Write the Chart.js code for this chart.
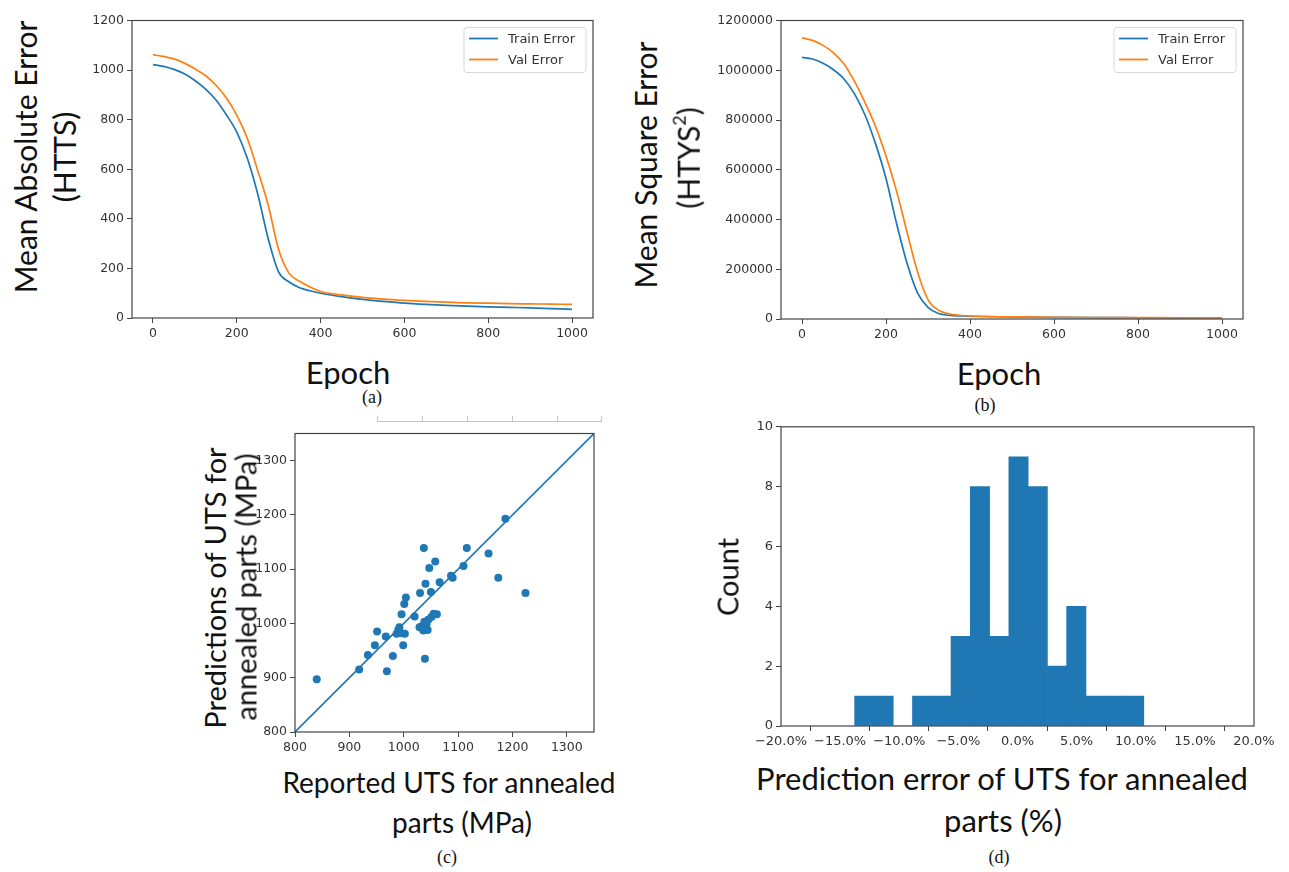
<!DOCTYPE html>
<html>
<head>
<meta charset="utf-8">
<script src="https://cdn.jsdelivr.net/npm/chart.js@4.4.1/dist/chart.umd.min.js"></script>
<style>
  html, body { margin: 0; padding: 0; background: #fff; }
  body { width: 1289px; height: 872px; position: relative; overflow: hidden; }
  canvas { position: absolute; }
  .lbl { position: absolute; white-space: nowrap; font-family: Lato, sans-serif; font-size: 30px; color: #111;
         transform: translate(-50%, -50%); line-height: 1; }
  .rot { transform: translate(-50%, -50%) rotate(-90deg); }
  .cap { font-family: "Liberation Serif", serif; font-size: 18px; }
  .lbl sup { font-size: 0.6em; vertical-align: 0.75em; }
  #artifact { position: absolute; left: 377px; top: 416px; width: 225px; height: 5px;
              border-bottom: 1px solid #c4c4c4; }
  #artifact span { position: absolute; top: 0; width: 1px; height: 6px; background: #c4c4c4; }
</style>
</head>
<body>
<canvas id="chartA" width="520" height="330" style="left:90px;top:10px"></canvas>
<canvas id="chartB" width="560" height="330" style="left:700px;top:10px"></canvas>
<canvas id="chartC" width="370" height="335" style="left:245px;top:423px"></canvas>
<canvas id="chartD" width="554" height="335" style="left:735px;top:416px"></canvas>
<div id="artifact"><span style="left:0"></span><span style="left:45px"></span><span style="left:90px"></span><span style="left:135px"></span><span style="left:180px"></span><span style="left:224px"></span></div>

<div class="lbl rot" style="left:25px;top:157px">Mean Absolute Error</div>
<div class="lbl rot" style="left:64px;top:157px">(HTTS)</div>
<div class="lbl" style="left:348px;top:372px;font-size:31px">Epoch</div>
<div class="lbl cap" style="left:372px;top:397px">(a)</div>

<div class="lbl rot" style="left:645px;top:165px">Mean Square Error</div>
<div class="lbl rot" style="left:686px;top:158px">(HTYS<sup>2</sup>)</div>
<div class="lbl" style="left:999px;top:373px;font-size:31px">Epoch</div>
<div class="lbl cap" style="left:985px;top:405px">(b)</div>

<div class="lbl rot" style="left:214px;top:588px;font-size:29px">Predictions of UTS for</div>
<div class="lbl rot" style="left:245px;top:587px;font-size:29px">annealed parts (MPa)</div>
<div class="lbl" style="left:449px;top:782px;font-size:28px">Reported UTS for annealed</div>
<div class="lbl" style="left:462px;top:822px;font-size:28px">parts (MPa)</div>
<div class="lbl cap" style="left:447px;top:857px">(c)</div>

<div class="lbl rot" style="left:727px;top:577px;font-size:29px">Count</div>
<div class="lbl" style="left:1002px;top:778px;font-size:31px">Prediction error of UTS for annealed</div>
<div class="lbl" style="left:1003px;top:820px;font-size:31px">parts (%)</div>
<div class="lbl cap" style="left:999px;top:857px">(d)</div>

<script>
const BLUE = "#1f77b4";
const ORANGE = "#ff7f0e";

// (a) mean absolute error per epoch
const maeEpochs = [0, 25, 50, 75, 100, 125, 150, 175, 200, 225, 250, 275, 300, 325, 350, 375, 400,
  450, 500, 550, 600, 650, 700, 750, 800, 850, 900, 950, 1000];
const maeTrain = [1022, 1015, 1003, 985, 958, 924, 880, 820, 750, 645, 500, 320, 185, 145, 122, 110, 100,
  86, 75, 67, 60, 55, 51, 48, 45, 43, 41, 38, 35];
const maeVal = [1062, 1055, 1045, 1028, 1005, 978, 940, 888, 818, 725, 595, 455, 275, 180, 148, 125, 107,
  93, 83, 76, 71, 67, 64, 61, 60, 58, 57, 56, 55];

// (b) mean square error per epoch
const mseEpochs = [0, 25, 50, 75, 100, 125, 150, 175, 200, 225, 250, 275, 300, 325, 350, 375, 400,
  500, 600, 700, 800, 900, 1000];
const mseTrain = [1052000, 1045000, 1028000, 1002000, 965000, 905000, 820000, 705000, 565000, 385000,
  225000, 105000, 47000, 22000, 15000, 12000, 11000, 8000, 6500, 5500, 5000, 4500, 4000];
const mseVal = [1130000, 1120000, 1100000, 1070000, 1025000, 955000, 870000, 775000, 655000, 515000,
  350000, 190000, 78000, 35000, 21000, 15000, 12000, 8500, 7000, 6000, 5500, 5000, 4500];

// (c) reported vs predicted UTS (MPa)
const reportedUts = [840, 918, 934, 947, 951, 967, 969, 980, 987, 990, 992, 996, 1002, 999, 996, 1001,
  1004, 1020, 1029, 1030, 1037, 1039, 1036, 1040, 1042, 1044, 1045, 1047, 1050, 1051, 1055, 1058, 1061,
  1066, 1087, 1090, 1110, 1116, 1156, 1174, 1187, 1224, 1033, 1038];
const predictedUts = [897, 915, 942, 960, 985, 976, 912, 940, 981, 988, 993, 982, 981, 960, 1017, 1036,
  1048, 1013, 993, 1056, 1139, 935, 987, 1073, 999, 988, 1007, 1102, 1058, 1012, 1018, 1114, 1017,
  1076, 1088, 1084, 1106, 1139, 1129, 1084, 1193, 1056, 995, 1003];

// (d) histogram of prediction error (%)
const binEdges = [-13.77, -12.14, -10.51, -8.88, -7.25, -5.62, -3.99, -2.36, -0.73, 0.90, 2.53, 4.16,
  5.79, 7.42, 9.05, 10.68];
const binCounts = [1, 1, 0, 1, 1, 3, 8, 3, 9, 8, 2, 4, 1, 1, 1];

const epochTicks = [0, 200, 400, 600, 800, 1000];
const maeTicks = [0, 200, 400, 600, 800, 1000, 1200];
const mseTicks = [0, 200000, 400000, 600000, 800000, 1000000, 1200000];
const utsTicks = [800, 900, 1000, 1100, 1200, 1300];
const pctTicks = [-20, -15, -10, -5, 0, 5, 10, 15, 20];
const countTicks = [0, 2, 4, 6, 8, 10];

// draws the black box round the plot area
const frame = {
  id: "frame",
  afterDatasetsDraw(chart) {
    const a = chart.chartArea;
    const ctx = chart.ctx;
    ctx.save();
    ctx.strokeStyle = "#444";
    ctx.lineWidth = 1.2;
    ctx.strokeRect(a.left, a.top, a.right - a.left, a.bottom - a.top);
    ctx.restore();
  }
};

// matplotlib style legend in the upper right corner
const boxLegend = {
  id: "boxLegend",
  afterDraw(chart) {
    const a = chart.chartArea;
    const ctx = chart.ctx;
    const w = 122, h = 45;
    const x0 = a.right - 7 - w, y0 = a.top + 7;
    ctx.save();
    ctx.beginPath();
    ctx.roundRect(x0, y0, w, h, 3);
    ctx.fillStyle = "rgba(255,255,255,0.85)";
    ctx.fill();
    ctx.strokeStyle = "#d8d8d8";
    ctx.lineWidth = 1;
    ctx.stroke();
    chart.data.datasets.forEach((ds, i) => {
      const y = y0 + 11 + i * 21;
      ctx.strokeStyle = ds.borderColor;
      ctx.lineWidth = 1.8;
      ctx.beginPath();
      ctx.moveTo(x0 + 5, y);
      ctx.lineTo(x0 + 34, y);
      ctx.stroke();
      ctx.fillStyle = "#333";
      ctx.font = '13px "DejaVu Sans"';
      ctx.textBaseline = "middle";
      ctx.fillText(ds.label, x0 + 44, y + 1);
    });
    ctx.restore();
  }
};

function axis(min, max, ticks, fit, fontSize, fmt) {
  return {
    type: "linear",
    min: min,
    max: max,
    offset: false,
    afterBuildTicks: (s) => { s.ticks = ticks.map((v) => ({ value: v })); },
    afterFit: fit,
    grid: { drawOnChartArea: false, drawTicks: true, tickLength: 5, color: "#444" },
    border: { display: false },
    ticks: {
      font: { family: "DejaVu Sans", size: fontSize },
      color: "#333",
      padding: 3,
      maxRotation: 0,
      autoSkip: false,
      callback: fmt || ((v) => String(v))
    }
  };
}

function baseOptions(padTop, padRight, x, y) {
  return {
    responsive: false,
    animation: false,
    layout: { padding: { top: padTop, right: padRight, left: 0, bottom: 0 } },
    plugins: { legend: { display: false }, tooltip: { enabled: false } },
    scales: { x: x, y: y }
  };
}

function lineSet(label, xs, ys, color, order) {
  return {
    label: label,
    data: xs.map((e, i) => ({ x: e, y: ys[i] })),
    borderColor: color,
    borderWidth: 1.7,
    pointRadius: 0,
    fill: false,
    cubicInterpolationMode: "monotone",
    order: order
  };
}

new Chart(document.getElementById("chartA"), {
  type: "line",
  data: {
    datasets: [
      lineSet("Train Error", maeEpochs, maeTrain, BLUE, 1),
      lineSet("Val Error", maeEpochs, maeVal, ORANGE, 0)
    ]
  },
  options: baseOptions(10, 17,
    axis(-50, 1050, epochTicks, (s) => { s.height = 22; }, 12.5),
    axis(0, 1200, maeTicks, (s) => { s.width = 42; }, 12.5)),
  plugins: [frame, boxLegend]
});

new Chart(document.getElementById("chartB"), {
  type: "line",
  data: {
    datasets: [
      lineSet("Train Error", mseEpochs, mseTrain, BLUE, 1),
      lineSet("Val Error", mseEpochs, mseVal, ORANGE, 0)
    ]
  },
  options: baseOptions(10, 17,
    axis(-50, 1050, epochTicks, (s) => { s.height = 21; }, 12.5),
    axis(0, 1200000, mseTicks, (s) => { s.width = 81; }, 12.5)),
  plugins: [frame, boxLegend]
});

new Chart(document.getElementById("chartC"), {
  type: "scatter",
  data: {
    datasets: [
      {
        label: "UTS",
        data: reportedUts.map((v, i) => ({ x: v, y: predictedUts[i] })),
        backgroundColor: BLUE,
        borderWidth: 0,
        pointRadius: 4,
        order: 0
      },
      {
        type: "line",
        label: "ideal",
        data: [{ x: 800, y: 800 }, { x: 1350, y: 1350 }],
        borderColor: BLUE,
        borderWidth: 1.6,
        pointRadius: 0,
        order: 1
      }
    ]
  },
  options: baseOptions(10, 21,
    axis(800, 1350, utsTicks, (s) => { s.height = 26; }, 12.5),
    axis(800, 1350, utsTicks, (s) => { s.width = 50; }, 12.5)),
  plugins: [frame]
});

const binCenters = binCounts.map((c, i) => (binEdges[i] + binEdges[i + 1]) / 2);

new Chart(document.getElementById("chartD"), {
  type: "bar",
  data: {
    datasets: [{
      label: "Count",
      data: binCenters.map((c, i) => ({ x: c, y: binCounts[i] })),
      backgroundColor: BLUE,
      borderWidth: 0,
      barPercentage: 1,
      categoryPercentage: 1
    }]
  },
  options: baseOptions(10, 35,
    axis(-20, 20, pctTicks, (s) => { s.height = 25; }, 13,
      (v) => (v < 0 ? "\u2212" : "") + Math.abs(v).toFixed(1) + "%"),
    axis(0, 10, countTicks, (s) => { s.width = 46; }, 13)),
  plugins: [frame]
});
</script>
</body>
</html>
